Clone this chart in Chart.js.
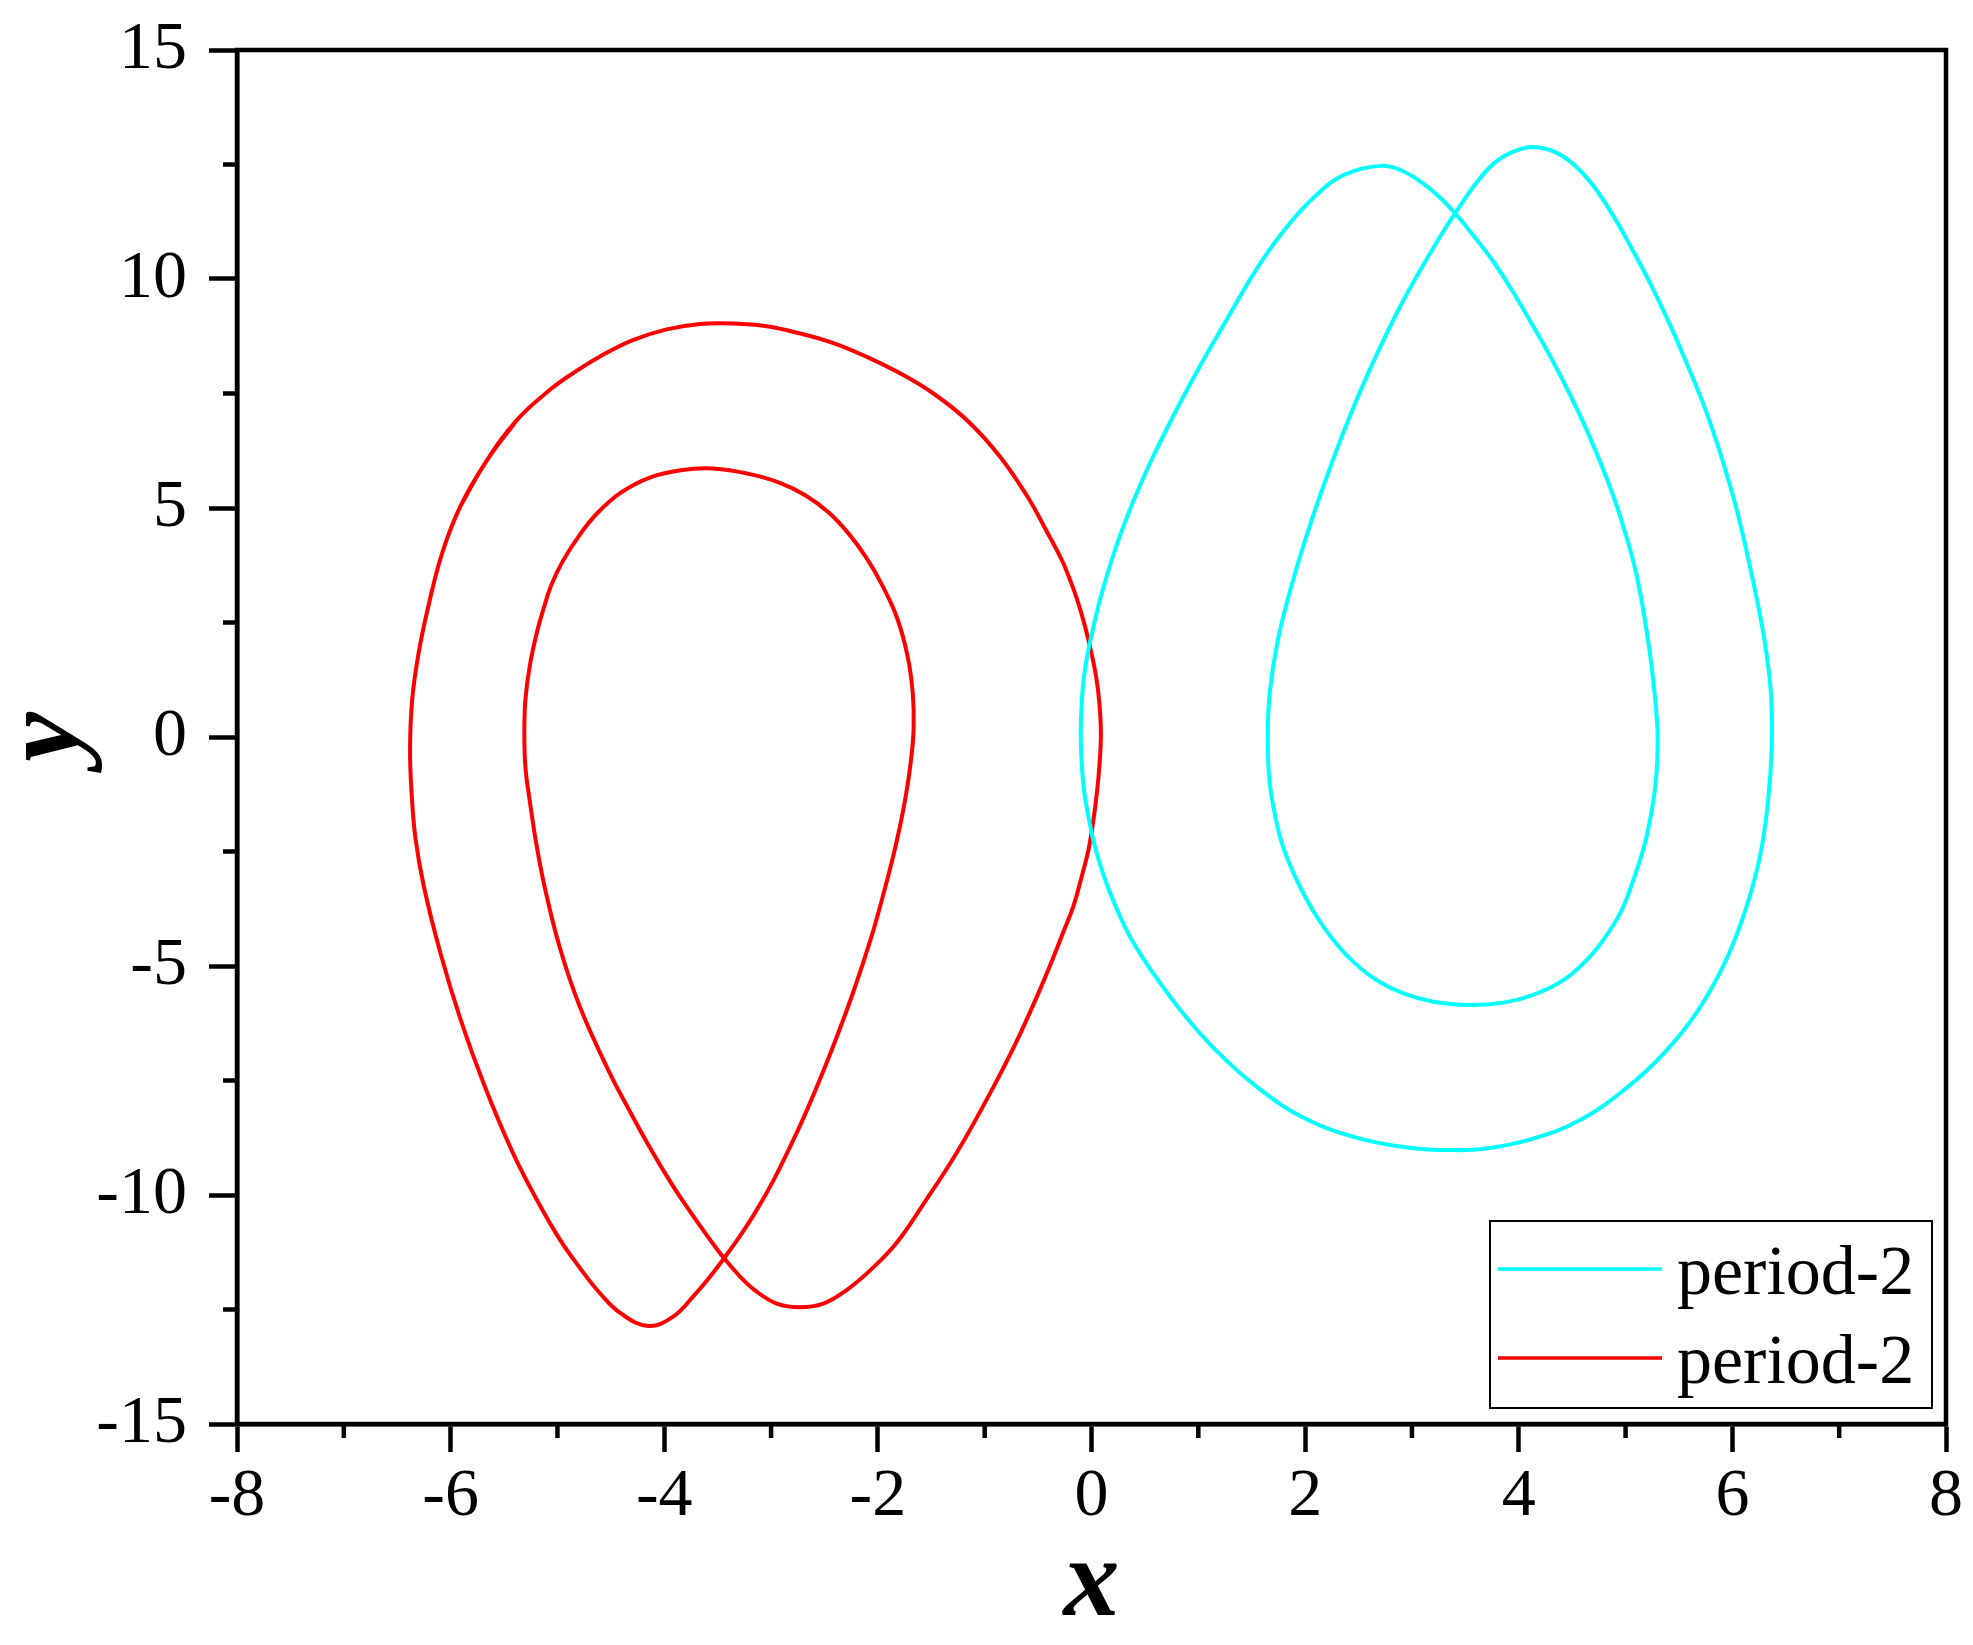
<!DOCTYPE html>
<html>
<head>
<meta charset="utf-8">
<title>period-2 orbits</title>
<script src="https://cdn.jsdelivr.net/npm/chart.js@4.4.1/dist/chart.umd.min.js"></script>
<style>
	html, body { margin: 0; padding: 0; background: #fff; }
	#wrap { width: 1973px; height: 1645px; position: relative; }
</style>
</head>
<body>
<div id="wrap"><canvas id="phase"></canvas></div>
<script>
// tick values
var xTicks = [-8, -6, -4, -2, 0, 2, 4, 6, 8];
var xMinor = [-7, -5, -3, -1, 1, 3, 5, 7];
var yTicks = [-15, -10, -5, 0, 5, 10, 15];
var yMinor = [-12.5, -7.5, -2.5, 2.5, 7.5, 12.5];

var xTitle = "x";
var yTitle = "y";

// orbit on the right (cyan), traced once round plus a short overlap to close it
var cyanLabel = "period-2";
var cyanX = [1.03, 0.81, 0.59, 0.41, 0.275, 0.19, 0.096, 0.033, -0.029, -0.070,
	-0.092, -0.101, -0.092, -0.070, -0.029, 0.024, 0.096, 0.189, 0.283, 0.377,
	0.56, 0.845, 1.16, 1.56, 2.00, 2.53, 3.06, 3.37, 3.68, 4.12,
	4.57, 5.01, 5.36, 5.67, 5.925, 6.105, 6.25, 6.33, 6.37, 6.36,
	6.30, 6.205, 6.065, 5.935, 5.76, 5.585, 5.41, 5.23, 5.05, 4.88,
	4.70, 4.52, 4.35, 4.14, 3.95, 3.77, 3.60, 3.40, 3.245, 3.08,
	2.89, 2.70, 2.535, 2.355, 2.17, 2.00, 1.87, 1.745, 1.67, 1.65,
	1.67, 1.755, 1.84, 1.952, 2.108, 2.264, 2.452, 2.670, 2.920, 3.201,
	3.544, 3.856, 4.137, 4.418, 4.636, 4.792, 4.949, 5.04, 5.135, 5.205,
	5.28, 5.30, 5.27, 5.21, 5.10, 4.96, 4.83, 4.65, 4.475, 4.295,
	4.12, 3.935, 3.75, 3.585, 3.41, 3.24, 3.06, 2.89, 2.71, 2.36,
	2.09, 1.83, 1.56, 1.30, 1.03, 0.81, 0.59];
var cyanY = [8.16, 7.21, 6.19, 5.25, 4.45, 3.87, 3.14, 2.56, 1.90, 1.32,
	0.74, 0.08, -0.57, -1.16, -1.74, -2.32, -2.90, -3.49, -4.00, -4.43,
	-5.10, -6.00, -6.83, -7.66, -8.33, -8.78, -8.99, -9.02, -8.99, -8.78,
	-8.37, -7.66, -6.90, -6.00, -4.95, -3.90, -2.70, -1.49, -0.14, 0.99,
	2.12, 3.28, 4.74, 5.83, 7.07, 8.09, 9.03, 9.91, 10.70, 11.40,
	12.03, 12.49, 12.76, 12.88, 12.78, 12.53, 12.09, 11.42, 10.85, 10.20,
	9.40, 8.50, 7.65, 6.63, 5.47, 4.30, 3.28, 2.12, 0.99, 0.01,
	-1.04, -2.09, -2.69, -3.27, -3.92, -4.43, -4.91, -5.31, -5.60, -5.78,
	-5.85, -5.80, -5.63, -5.31, -4.87, -4.43, -3.85, -3.34, -2.69, -2.09,
	-1.04, 0.01, 0.99, 2.12, 3.57, 4.74, 5.61, 6.63, 7.50, 8.31,
	9.03, 9.76, 10.42, 10.92, 11.42, 11.83, 12.16, 12.38, 12.47, 12.27,
	11.80, 11.14, 10.27, 9.25, 8.16, 7.21, 6.19];

// orbit on the left (red)
var redLabel = "period-2";
var redX = [-5.38, -5.68, -5.91, -6.08, -6.21, -6.30, -6.36, -6.38, -6.365, -6.33,
	-6.25, -6.095, -5.905, -5.68, -5.415, -5.175, -4.975, -4.80, -4.60, -4.41,
	-4.15, -3.92, -3.73, -3.57, -3.44, -3.295, -3.135, -2.975, -2.80, -2.65,
	-2.445, -2.235, -2.06, -1.93, -1.835, -1.755, -1.695, -1.665, -1.675, -1.725,
	-1.825, -1.97, -2.11, -2.27, -2.46, -2.68, -2.93, -3.20, -3.54, -3.83,
	-4.13, -4.41, -4.63, -4.79, -4.95, -5.06, -5.13, -5.195, -5.26, -5.30,
	-5.31, -5.30, -5.26, -5.20, -5.12, -4.98, -4.79, -4.51, -4.29, -4.175,
	-4.03, -3.875, -3.725, -3.57, -3.44, -3.29, -3.135, -2.947, -2.735, -2.51,
	-2.29, -2.07, -1.83, -1.56, -1.265, -0.95, -0.68, -0.445, -0.255, -0.17,
	-0.092, -0.029, 0.014, 0.050, 0.076, 0.088, 0.074, 0.043, -0.007, -0.060,
	-0.123, -0.201, -0.279, -0.41, -0.60, -0.856, -1.168, -1.48, -1.792, -2.104,
	-2.416, -2.728, -3.04, -3.353, -3.665, -3.977, -4.289, -4.601, -4.85, -5.07,
	-5.38, -5.68, -5.91];
var redY = [6.92, 5.97, 5.03, 4.01, 2.84, 1.83, 0.81, -0.28, -1.23, -2.20,
	-3.27, -4.72, -6.18, -7.63, -9.09, -10.18, -10.98, -11.56, -12.15, -12.58,
	-12.86, -12.66, -12.22, -11.78, -11.38, -10.91, -10.33, -9.67, -8.84, -8.07,
	-6.91, -5.60, -4.36, -3.27, -2.39, -1.50, -0.60, 0.20, 1.00, 1.80,
	2.63, 3.36, 3.92, 4.43, 4.90, 5.28, 5.56, 5.74, 5.86, 5.83,
	5.67, 5.33, 4.88, 4.42, 3.84, 3.30, 2.80, 2.26, 1.54, 0.81,
	0.08, -0.65, -1.38, -2.30, -3.27, -4.58, -5.89, -7.34, -8.31, -8.80,
	-9.38, -9.96, -10.47, -10.98, -11.38, -11.78, -12.11, -12.37, -12.45, -12.37,
	-12.07, -11.64, -11.06, -10.15, -9.09, -7.78, -6.54, -5.31, -4.21, -3.70,
	-3.05, -2.47, -1.88, -1.23, -0.57, 0.08, 0.74, 1.32, 1.90, 2.41,
	2.92, 3.43, 3.87, 4.45, 5.25, 6.12, 6.92, 7.50, 7.94, 8.30,
	8.60, 8.81, 8.97, 9.03, 9.02, 8.90, 8.67, 8.31, 7.95, 7.58,
	6.92, 5.97, 5.03];

function toPoints(xs, ys) {
	var pts = [];
	for (var i = 0; i < xs.length; i++) {
		pts.push({ x: xs[i], y: ys[i] });
	}
	return pts;
}

var serif = "'Liberation Serif', 'Times New Roman', serif";

// box round the plot, minor ticks and the legend inside the plot
var framePlugin = {
	id: "frame",
	afterDraw: function (chart) {
		var ctx = chart.ctx;
		var a = chart.chartArea;
		var xs = chart.scales.x;
		var ys = chart.scales.y;
		ctx.save();
		ctx.strokeStyle = "#000";
		ctx.lineWidth = 4.5;
		ctx.strokeRect(a.left, a.top, a.right - a.left, a.bottom - a.top);

		ctx.beginPath();
		xMinor.forEach(function (v) {
			var px = xs.getPixelForValue(v);
			ctx.moveTo(px, a.bottom);
			ctx.lineTo(px, a.bottom + 14);
		});
		yMinor.forEach(function (v) {
			var py = ys.getPixelForValue(v);
			ctx.moveTo(a.left, py);
			ctx.lineTo(a.left - 14, py);
		});
		ctx.stroke();

		// legend
		var bw = 442, bh = 187;
		var bx = a.right - 14 - bw;
		var by = a.bottom - 16 - bh;
		ctx.fillStyle = "#fff";
		ctx.fillRect(bx, by, bw, bh);
		ctx.lineWidth = 2;
		ctx.strokeRect(bx, by, bw, bh);
		ctx.font = "70px " + serif;
		ctx.textAlign = "left";
		ctx.textBaseline = "alphabetic";
		chart.data.datasets.forEach(function (ds, i) {
			var ly = by + 48 + i * 89;
			ctx.strokeStyle = ds.borderColor;
			ctx.lineWidth = 3.5;
			ctx.beginPath();
			ctx.moveTo(bx + 8, ly);
			ctx.lineTo(bx + 172, ly);
			ctx.stroke();
			ctx.fillStyle = "#000";
			ctx.fillText(ds.label, bx + 187, ly + 25);
		});
		ctx.restore();
	}
};

var chart = new Chart(document.getElementById("phase"), {
	type: "scatter",
	data: {
		datasets: [{
			label: cyanLabel,
			data: toPoints(cyanX, cyanY),
			showLine: true,
			borderColor: "#00FFFF",
			backgroundColor: "#00FFFF",
			borderWidth: 4,
			pointRadius: 0,
			tension: 0.4,
			fill: false
		}, {
			label: redLabel,
			data: toPoints(redX, redY),
			showLine: true,
			borderColor: "#FF0000",
			backgroundColor: "#FF0000",
			borderWidth: 4,
			pointRadius: 0,
			tension: 0.4,
			fill: false
		}]
	},
	options: {
		responsive: true,
		maintainAspectRatio: false,
		animation: false,
		layout: { padding: { left: 0, right: 27, top: 50, bottom: 0 } },
		plugins: {
			legend: { display: false },
			tooltip: { enabled: false }
		},
		scales: {
			x: {
				type: "linear",
				min: -8,
				max: 8,
				afterBuildTicks: function (s) {
					s.ticks = xTicks.map(function (v) { return { value: v }; });
				},
				afterFit: function (s) {
					s.height = 221;
					s.paddingLeft = 0;
					s.paddingRight = 0;
				},
				grid: { drawOnChartArea: false, drawTicks: true, tickLength: 28, tickWidth: 4.5, tickColor: "#000" },
				border: { display: true, color: "#000", width: 4.5 },
				ticks: {
					color: "#000",
					font: { family: serif, size: 68 },
					padding: 4,
					maxRotation: 0,
					autoSkip: false
				},
				title: {
					display: true,
					text: xTitle,
					color: "#000",
					font: { family: serif, size: 112, weight: "bold", style: "italic", lineHeight: 1 },
					padding: { top: 0, bottom: 3 }
				}
			},
			y: {
				type: "linear",
				min: -15,
				max: 15,
				afterBuildTicks: function (s) {
					s.ticks = yTicks.map(function (v) { return { value: v }; });
				},
				afterFit: function (s) {
					s.width = 237;
					s.paddingTop = 0;
					s.paddingBottom = 0;
				},
				grid: { drawOnChartArea: false, drawTicks: true, tickLength: 28, tickWidth: 4.5, tickColor: "#000" },
				border: { display: true, color: "#000", width: 4.5 },
				ticks: {
					color: "#000",
					font: { family: serif, size: 68 },
					padding: 22,
					autoSkip: false
				},
				title: {
					display: true,
					text: yTitle,
					color: "#000",
					font: { family: serif, size: 112, weight: "bold", style: "italic", lineHeight: 0.7 },
					padding: { top: 10, bottom: 0 }
				}
			}
		}
	},
	plugins: [framePlugin]
});
</script>
</body>
</html>
